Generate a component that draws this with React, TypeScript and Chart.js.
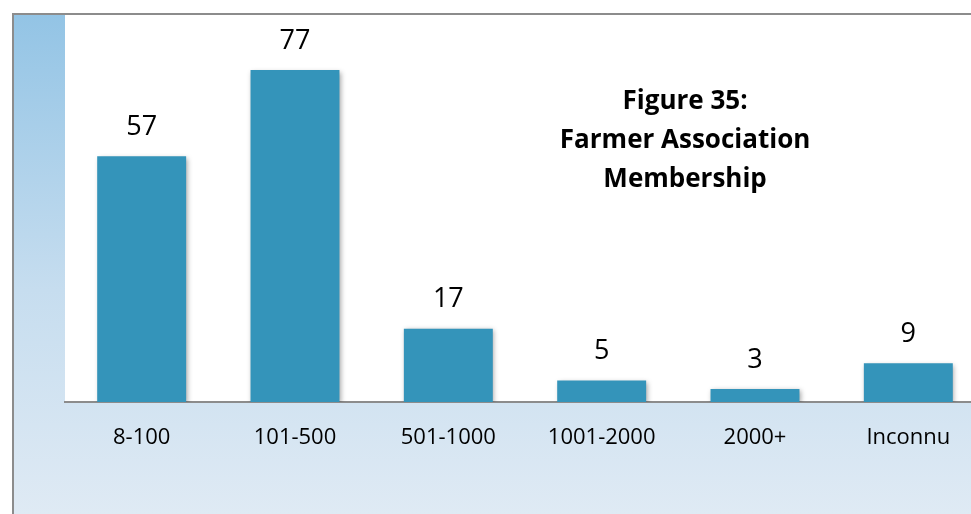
import React, { useEffect, useRef } from "react";
import { Chart, registerables } from "chart.js";

Chart.register(...registerables);

const categories = ["8-100", "101-500", "501-1000", "1001-2000", "2000+", "Inconnu"];
const members = [57, 77, 17, 5, 3, 9];
const titleLines = ["Figure 35:", "Farmer Association", "Membership"];
const yMax = 90;

const FONT = "'Open Sans', 'Noto Sans', sans-serif";

const backgroundPlugin = {
  id: "bgPlugin",
  beforeDraw(chart: any) {
    const { ctx, width, height, chartArea } = chart;
    ctx.save();
    ctx.fillStyle = "#ffffff";
    ctx.fillRect(0, 0, width, height);
    const g = ctx.createLinearGradient(0, 15, 0, 514);
    g.addColorStop(0, "#93c4e5");
    g.addColorStop(0.55, "#c6ddef");
    g.addColorStop(1, "#dfeaf4");
    ctx.fillStyle = g;
    ctx.fillRect(14, 15, width - 14, height - 15);
    ctx.fillStyle = "#ffffff";
    ctx.fillRect(chartArea.left, 15, chartArea.right - chartArea.left + 40, chartArea.bottom - 15);
    ctx.strokeStyle = "#8c8c8c";
    ctx.lineWidth = 2;
    ctx.beginPath();
    ctx.moveTo(13, height);
    ctx.lineTo(13, 14);
    ctx.lineTo(width, 14);
    ctx.stroke();
    ctx.restore();
  },
  beforeDatasetsDraw(chart: any) {
    const ctx = chart.ctx;
    ctx.save();
    ctx.shadowColor = "rgba(0,0,0,0.35)";
    ctx.shadowBlur = 5;
    ctx.shadowOffsetX = 1.5;
    ctx.shadowOffsetY = 1.5;
  },
  afterDatasetsDraw(chart: any) {
    const ctx = chart.ctx;
    ctx.restore();
    const meta = chart.getDatasetMeta(0);
    ctx.save();
    ctx.fillStyle = "#000000";
    ctx.font = `27px ${FONT}`;
    ctx.textAlign = "center";
    ctx.textBaseline = "middle";
    meta.data.forEach((bar: any, i: number) => {
      ctx.fillText(String(chart.data.datasets[0].data[i]), bar.x, bar.y - 29);
    });
    const { chartArea } = chart;
    const cx = chartArea.left + (chartArea.right - chartArea.left) * 0.674;
    ctx.font = `bold 26px ${FONT}`;
    titleLines.forEach((line, i) => {
      ctx.fillText(line, cx, 101.5 + i * 39);
    });
    ctx.restore();
  },
};

export default function App() {
  const ref = useRef<HTMLCanvasElement | null>(null);
  useEffect(() => {
    document.body.style.margin = "0";
    document.body.style.overflow = "hidden";
    document.documentElement.style.overflow = "hidden";
    const chart = new Chart(ref.current as HTMLCanvasElement, {
      type: "bar",
      data: {
        labels: categories,
        datasets: [
          {
            data: members,
            backgroundColor: "#3494ba",
            borderWidth: 0,
            categoryPercentage: 1,
            barPercentage: 0.58,
          },
        ],
      },
      options: {
        animation: false,
        responsive: false,
        maintainAspectRatio: false,
        layout: { padding: { left: 65, right: 25, top: 14, bottom: 0 } },
        plugins: { legend: { display: false }, tooltip: { enabled: false }, title: { display: false } },
        scales: {
          y: { display: false, min: 0, max: yMax },
          x: {
            grid: { display: false, drawTicks: false },
            border: { display: true, color: "#8c8c8c", width: 2 },
            ticks: { color: "#000000", font: { family: FONT, size: 22 }, padding: 23, maxRotation: 0 },
            afterFit(scale: any) {
              scale.height = 540 - 402;
            },
          },
        },
      },
      plugins: [backgroundPlugin],
    });
    return () => chart.destroy();
  }, []);
  return (
    <div style={{ position: "fixed", left: 0, top: 0, width: 971, height: 514, overflow: "hidden", background: "#fff" }}>
      <canvas ref={ref} width={1010} height={540} style={{ display: "block", width: 1010, height: 540 }} />
    </div>
  );
}
